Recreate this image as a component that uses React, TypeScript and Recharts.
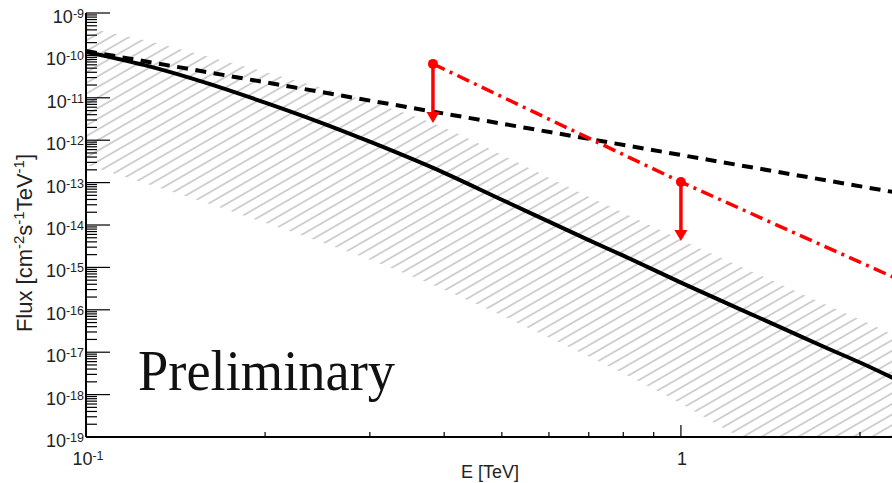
import React from 'react';
import { ComposedChart, Line, Area, Scatter, XAxis, YAxis } from 'recharts';

// energy grid (TeV) of the model curve and its band
const energy = [0.1, 0.125, 0.15, 0.2, 0.25, 0.3, 0.4, 0.5, 0.6, 0.7, 0.8, 1.0, 1.25, 1.5, 1.75, 2.0, 2.29];
const modelFlux = [1.21e-10, 5.96e-11, 2.91e-11, 7.71e-12, 2.5e-12, 9.21e-13, 1.7e-13, 3.94e-14, 1.2e-14, 4.39e-15, 1.89e-15, 4.38e-16, 1.07e-16, 3.42e-17, 1.29e-17, 5.71e-18, 2.34e-18];
const bandHigh = [4.44e-10, 2.31e-10, 1.21e-10, 4.08e-11, 1.71e-11, 8.02e-12, 1.96e-12, 4.53e-13, 1.3e-13, 4.64e-14, 1.95e-14, 4.51e-15, 1.1e-15, 3.52e-16, 1.33e-16, 5.89e-17, 2.47e-17];
const bandLow = [2.63e-13, 9.91e-14, 4.4e-14, 1.13e-14, 3.83e-15, 1.52e-15, 2.99e-16, 7.31e-17, 2.22e-17, 7.91e-18, 3.15e-18, 6.19e-19, 1.03e-19, 2.81e-20, 9.5e-21, 3.8e-21, 1.4e-21];

// power law (dashed)
const plEnergy = [0.1, 0.2, 0.4, 1.0, 2.29];
const plFlux = [1.27e-10, 2.33e-11, 4.25e-12, 4.48e-13, 5.89e-14];

// upper limits + red dash-dot line
const ulEnergy = [0.383, 1.0];
const ulFlux = [6.3e-11, 1.03e-13];
const ulLineEnergy = [0.383, 1.0, 2.29];
const ulLineFlux = [6.3e-11, 1.03e-13, 5.65e-16];

const xTicks = [0.1, 0.2, 0.3, 0.4, 0.5, 0.6, 0.7, 0.8, 0.9, 1, 2];
const decades = [-19, -18, -17, -16, -15, -14, -13, -12, -11, -10, -9];
const minorSteps = [2, 3, 4, 5, 6, 7, 8, 9];
const yTicks = decades.flatMap((d) => [
  Number(`1e${d}`),
  ...(d < -9 ? minorSteps.map((k) => Number(`${k}e${d}`)) : []),
]);

const bandData = energy.map((E, i) => ({ E, lo: bandLow[i], hi: bandHigh[i] }));
const modelData = energy.map((E, i) => ({ E, flux: modelFlux[i] }));
const plData = plEnergy.map((E, i) => ({ E, flux: plFlux[i] }));
const ulData = ulEnergy.map((E, i) => ({ E, flux: ulFlux[i] }));
const ulLineData = ulLineEnergy.map((E, i) => ({ E, flux: ulLineFlux[i] }));

const FONT = 'Liberation Sans, Arial, sans-serif';

const isDecade = (v: number) => Math.abs(Math.log10(v) - Math.round(Math.log10(v))) < 1e-9;

const BottomTick = ({ x, y, payload }: any) => {
  const v = payload.value;
  const major = isDecade(v);
  return (
    <g>
      <line x1={x} x2={x} y1={y} y2={y - (major ? 12 : 5)} stroke="#000" strokeWidth={1.2} />
      {v === 0.1 && (
        <text x={x + 2} y={y + 28} textAnchor="middle" fontSize={18} fontFamily={FONT} fill="#222">
          10<tspan dy={-5} fontSize={12.5}>-1</tspan>
        </text>
      )}
      {v === 1 && (
        <text x={x + 1} y={y + 28} textAnchor="middle" fontSize={18} fontFamily={FONT} fill="#222">1</text>
      )}
    </g>
  );
};

const TopTick = ({ x, y, payload }: any) => {
  const major = isDecade(payload.value);
  return <line x1={x} x2={x} y1={y} y2={y + (major ? 12 : 6)} stroke="#000" strokeWidth={1.2} />;
};

const LeftTick = ({ x, y, payload }: any) => {
  const v = payload.value;
  const major = isDecade(v);
  return (
    <g>
      <line x1={x} x2={x + (major ? 24 : 11)} y1={y} y2={y} stroke="#000" strokeWidth={1.2} />
      {major && (
        <text x={x - 2} y={y + 10} textAnchor="end" fontSize={18} fontFamily={FONT} fill="#222">
          10<tspan dy={-5} fontSize={12.5}>{Math.round(Math.log10(v))}</tspan>
        </text>
      )}
    </g>
  );
};

const RightTick = ({ x, y, payload }: any) => {
  const major = isDecade(payload.value);
  return <line x1={x} x2={x - (major ? 24 : 11)} y1={y} y2={y} stroke="#000" strokeWidth={1.2} />;
};

const UpperLimit = ({ cx, cy }: any) => (
  <g>
    <line x1={cx} x2={cx} y1={cy} y2={cy + 49} stroke="#ff0000" strokeWidth={3.5} />
    <polygon points={`${cx - 6.5},${cy + 48} ${cx + 6.5},${cy + 48} ${cx},${cy + 59}`} fill="#ff0000" />
    <circle cx={cx} cy={cy} r={5} fill="#ff0000" />
  </g>
);

export default function App() {
  return (
    <div style={{ position: 'absolute', left: 0, top: 0, width: 892, height: 483, overflow: 'hidden', background: '#fff' }}>
      <ComposedChart width={902} height={483} margin={{ top: 13, right: 7, bottom: 0, left: 0 }}>
        <defs>
          <pattern id="hatch" patternUnits="userSpaceOnUse" width={10} height={9.2} patternTransform="rotate(-30)">
            <line x1={0} x2={10} y1={4.6} y2={4.6} stroke="#b4b4b4" strokeWidth={1.2} />
          </pattern>
        </defs>
        <XAxis
          dataKey="E" type="number" scale="log" domain={[0.1, 2.29]} allowDataOverflow
          ticks={xTicks} interval={0} height={46} tickSize={0} tickMargin={0}
          axisLine={{ stroke: '#000', strokeWidth: 2 }} tickLine={false}
          tick={(p: any) => <BottomTick {...p} />}
        />
        <XAxis
          xAxisId="top" orientation="top" dataKey="E" type="number" scale="log" domain={[0.1, 2.29]} allowDataOverflow
          ticks={xTicks} interval={0} height={0} tickSize={0} tickMargin={0}
          axisLine={{ stroke: '#000', strokeWidth: 2 }} tickLine={false}
          tick={(p: any) => <TopTick {...p} />}
        />
        <YAxis
          type="number" scale="log" domain={[1e-19, 1e-9]} allowDataOverflow
          ticks={yTicks} interval={0} width={86} tickSize={0} tickMargin={0}
          axisLine={{ stroke: '#000', strokeWidth: 2 }} tickLine={false}
          tick={(p: any) => <LeftTick {...p} />}
        />
        <YAxis
          yAxisId="right" orientation="right" type="number" scale="log" domain={[1e-19, 1e-9]} allowDataOverflow
          ticks={yTicks} interval={0} width={0} tickSize={0} tickMargin={0}
          axisLine={{ stroke: '#000', strokeWidth: 2 }} tickLine={false}
          tick={(p: any) => <RightTick {...p} />}
        />
        <Area
          data={bandData} dataKey={(d: any) => [d.lo, d.hi]} type="monotone"
          stroke="none" fill="url(#hatch)" fillOpacity={1} isAnimationActive={false}
        />
        <Line
          data={modelData} dataKey="flux" type="monotone" stroke="#000" strokeWidth={4}
          dot={false} activeDot={false} isAnimationActive={false}
        />
        <Line
          data={plData} dataKey="flux" type="linear" stroke="#000" strokeWidth={4}
          strokeDasharray="11 7.5" dot={false} activeDot={false} isAnimationActive={false}
        />
        <Line
          data={ulLineData} dataKey="flux" type="linear" stroke="#ff0000" strokeWidth={3.5}
          strokeDasharray="13 5.5 3 5.5" dot={false} activeDot={false} isAnimationActive={false}
        />
        <Scatter data={ulData} dataKey="flux" shape={(p: any) => <UpperLimit {...p} />} isAnimationActive={false} />
        <text transform="translate(32,243) rotate(-90)" textAnchor="middle" fontSize={22} fontFamily={FONT} fill="#222">
          Flux [cm<tspan dy={-8} fontSize={15}>-2</tspan>
          <tspan dy={8}>s</tspan>
          <tspan dy={-8} fontSize={15}>-1</tspan>
          <tspan dy={8}>TeV</tspan>
          <tspan dy={-8} fontSize={15}>-1</tspan>
          <tspan dy={8}>]</tspan>
        </text>
        <text x={490} y={478} textAnchor="middle" fontSize={18} fontFamily={FONT} fill="#222">E [TeV]</text>
        <text x={138} y={390} fontSize={56} fontFamily="Liberation Serif, DejaVu Serif, serif" fill="#111"
          textLength={257} lengthAdjust="spacingAndGlyphs">Preliminary</text>
      </ComposedChart>
    </div>
  );
}
